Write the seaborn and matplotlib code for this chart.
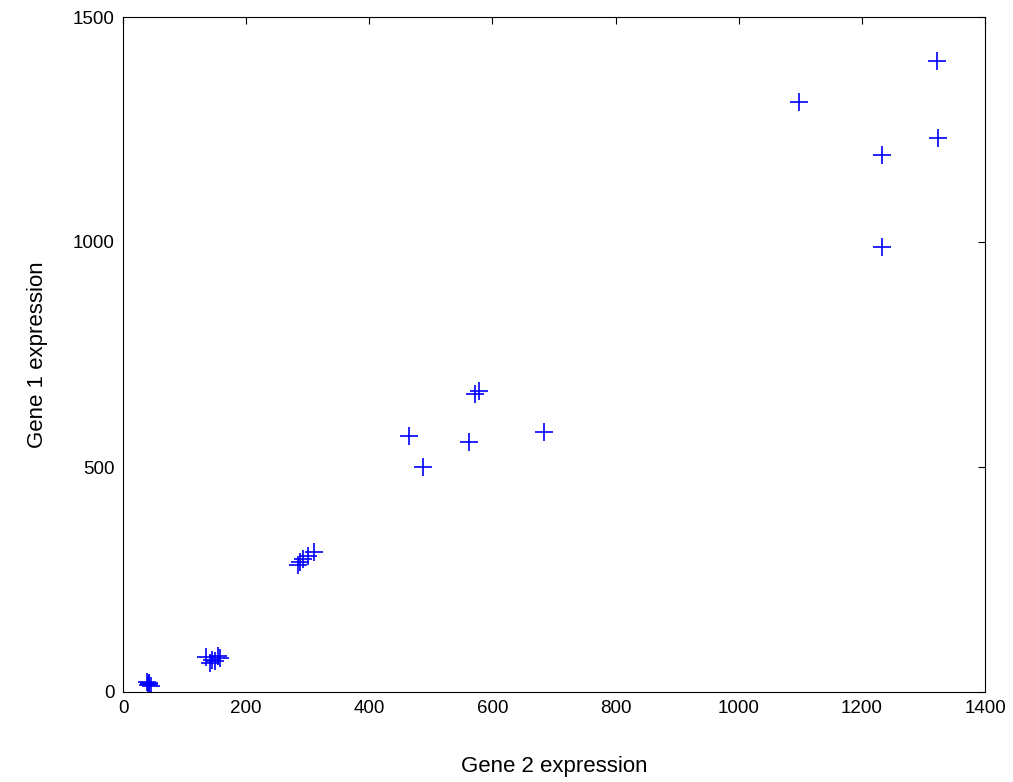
import matplotlib
matplotlib.use("Agg")
import matplotlib.pyplot as plt
import seaborn as sns
import pandas as pd

gene2 = [39, 42, 45, 43, 40,
         135, 145, 150, 155, 158, 142,
         284, 288, 293, 300, 310,
         465, 488, 562, 572, 578, 683,
         1098, 1233, 1232, 1322, 1323]
gene1 = [22, 18, 13, 20, 16,
         78, 72, 68, 80, 75, 65,
         283, 288, 295, 303, 312,
         570, 500, 556, 663, 668, 578,
         1312, 1193, 990, 1403, 1232]

df = pd.DataFrame({"Gene 2 expression": gene2, "Gene 1 expression": gene1})

sns.set_style("white")
plt.rcParams['font.family'] = ['Liberation Sans', 'DejaVu Sans']
plt.rcParams['text.color'] = 'black'
plt.rcParams['axes.labelcolor'] = 'black'

fig = plt.figure(figsize=(10.13, 7.82), dpi=100)
ax = fig.add_axes([123/1013, 1-692/782, (985-123)/1013, (692-17)/782])

sns.scatterplot(data=df, x="Gene 2 expression", y="Gene 1 expression", ax=ax,
                marker="+", color="#0000ff", s=180, linewidth=1.2)

ax.set_xlim(0, 1400)
ax.set_ylim(0, 1500)
ax.set_xticks([0, 200, 400, 600, 800, 1000, 1200, 1400])
ax.set_yticks([0, 500, 1000, 1500])
ax.tick_params(direction="in", top=True, right=True, length=5, width=0.8,
               labelsize=13.5, colors="black", pad=6)
for sp in ax.spines.values():
    sp.set_visible(True)
    sp.set_color("black")
    sp.set_linewidth(0.8)
ax.set_xlabel("Gene 2 expression", fontsize=16, labelpad=28, color="black")
ax.set_ylabel("Gene 1 expression", fontsize=16, labelpad=18, color="black")
ax.grid(False)

fig.savefig("out.png", dpi=100)
